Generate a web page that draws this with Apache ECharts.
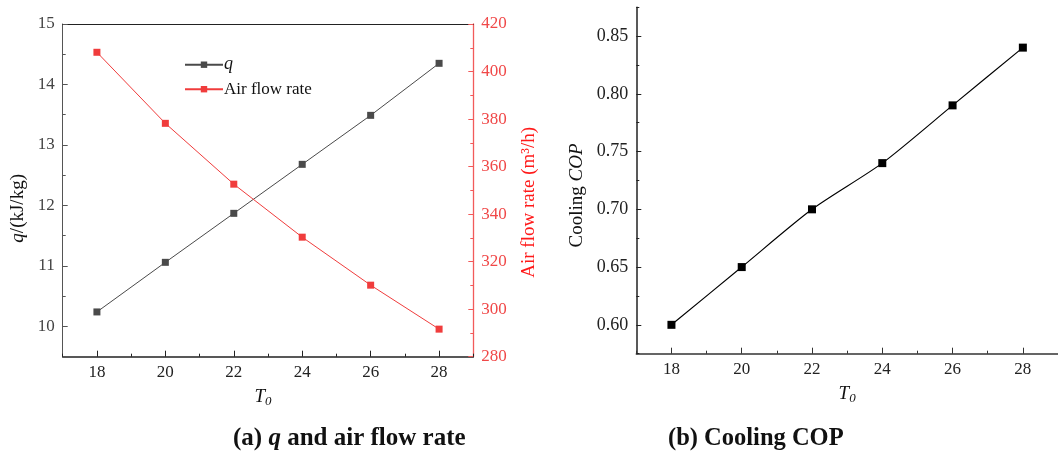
<!DOCTYPE html>
<html><head><meta charset="utf-8">
<script src="https://cdn.jsdelivr.net/npm/echarts@6/dist/echarts.min.js"></script>
<style>html,body{margin:0;padding:0;background:#fff}#c{width:1058px;height:452px}</style>
</head><body><div id="c"></div>
<script>
const temps = [18, 20, 22, 24, 26, 28];
const qValues = [10.24, 11.06, 11.87, 12.68, 13.49, 14.35];
const airFlow = [408.1, 378.2, 352.6, 330.3, 310.1, 291.6];
const copValues = [0.60, 0.65, 0.70, 0.74, 0.79, 0.84];
const xMajorTicks = [18, 20, 22, 24, 26, 28];
const xMinorTicks = [17, 19, 21, 23, 25, 27, 29];
const qMajorTicks = [10, 11, 12, 13, 14, 15];
const qMinorTicks = [9.5, 10.5, 11.5, 12.5, 13.5, 14.5];
const copMajorTicks = [0.60, 0.65, 0.70, 0.75, 0.80, 0.85];
const copMinorTicks = [0.575, 0.625, 0.675, 0.725, 0.775, 0.825, 0.875];

const FF = '"Liberation Serif","Times New Roman",serif';
const RED = '#f03c3c';
const pair = (ys) => temps.map((t, i) => [t, ys[i]]);

const nameT0 = {
  fontFamily: FF, fontSize: 19, color: '#111',
  rich: {
    i: {fontFamily: FF, fontSize: 19, fontStyle: 'italic', color: '#111', lineHeight: 22},
    s: {fontFamily: FF, fontSize: 13, fontStyle: 'italic', color: '#111', padding: [9, 0, 0, 0]}
  }
};

function mainX(grid, name, namePad, lineColor) {
  return {
    type: 'value', gridIndex: grid, position: 'bottom', min: 17, max: 29,
    name: name, nameLocation: 'middle', nameGap: 29,
    nameTextStyle: Object.assign({}, nameT0, {padding: namePad}),
    axisLine: {show: true, onZero: false, lineStyle: {color: lineColor, width: 1.5}},
    axisTick: {show: true, inside: true, length: 6, customValues: xMajorTicks, lineStyle: {color: lineColor, width: 1}},
    axisLabel: {customValues: xMajorTicks, margin: 7, color: '#222', fontFamily: FF, fontSize: 17},
    splitLine: {show: false}
  };
}
function minorX(grid, lineColor) {
  return {
    type: 'value', gridIndex: grid, position: 'bottom', min: 17, max: 29,
    axisLine: {show: false, onZero: false},
    axisTick: {show: true, inside: true, length: 3, customValues: xMinorTicks, lineStyle: {color: lineColor, width: 1}},
    axisLabel: {show: false}, splitLine: {show: false}
  };
}

const option = {
  backgroundColor: '#fff',
  animation: false,
  title: [
    {
      text: '{b|(a) }{bi|q}{b| and air flow rate}', left: 233, top: 426, padding: 0,
      textStyle: {fontFamily: FF, fontSize: 25, fontWeight: 'bold', color: '#111',
        rich: {
          b: {fontFamily: FF, fontSize: 25, fontWeight: 'bold', color: '#111'},
          bi: {fontFamily: FF, fontSize: 25, fontWeight: 'bold', fontStyle: 'italic', color: '#111'}
        }}
    },
    {
      text: '(b) Cooling COP', left: 668, top: 426, padding: 0,
      textStyle: {fontFamily: FF, fontSize: 24.5, fontWeight: 'bold', color: '#111'}
    }
  ],
  legend: {
    left: 184, top: 55.7, orient: 'vertical', padding: 0,
    itemWidth: 38, itemHeight: 8, itemGap: 7,
    data: ['q', 'Air flow rate'],
    formatter: (n) => n === 'q' ? '{i|q}' : n,
    textStyle: {fontFamily: FF, fontSize: 17, color: '#111', lineHeight: 14, padding: [0, 0, 0, -4],
      rich: {i: {fontFamily: FF, fontSize: 18, fontStyle: 'italic', color: '#111', lineHeight: 14}}}
  },
  grid: [
    {left: 62.7, top: 24, width: 410.6, height: 332.7},
    {left: 636.3, top: 7.2, width: 427.7, height: 346.5}
  ],
  xAxis: [
    mainX(0, '{i|T}{s|0}', [0, 10, 0, 0], '#222'),
    minorX(0, '#222'),
    {
      type: 'value', gridIndex: 0, position: 'top', min: 17, max: 29,
      axisLine: {show: true, onZero: false, lineStyle: {color: '#222', width: 1.2}},
      axisTick: {show: false}, axisLabel: {show: false}, splitLine: {show: false}
    },
    mainX(1, '{i|T}{s|0}', [0, 0, 0, 0], '#333'),
    minorX(1, '#333')
  ],
  yAxis: [
    {
      type: 'value', gridIndex: 0, position: 'left', min: 9.5, max: 15,
      name: '{i|q}/(kJ/kg)', nameLocation: 'middle', nameGap: 35,
      nameTextStyle: {fontFamily: FF, fontSize: 19, color: '#111', padding: [0, 36, 0, 0],
        rich: {i: {fontFamily: FF, fontSize: 19, fontStyle: 'italic', color: '#111'}}},
      axisLine: {show: true, onZero: false, lineStyle: {color: '#555', width: 1}},
      axisTick: {show: true, inside: true, length: 5, customValues: qMajorTicks, lineStyle: {color: '#555'}},
      axisLabel: {customValues: qMajorTicks, margin: 8, color: '#444', fontFamily: FF, fontSize: 17},
      splitLine: {show: false}
    },
    {
      type: 'value', gridIndex: 0, position: 'left', min: 9.5, max: 15,
      axisLine: {show: false, onZero: false},
      axisTick: {show: true, inside: true, length: 3, customValues: qMinorTicks, lineStyle: {color: '#555'}},
      axisLabel: {show: false}, splitLine: {show: false}
    },
    {
      type: 'value', gridIndex: 0, position: 'right', min: 280, max: 420, interval: 20,
      name: 'Air flow rate (m³/h)', nameLocation: 'middle', nameGap: 46,
      nameTextStyle: {fontFamily: FF, fontSize: 19, color: '#ff1a1a', padding: [0, 24, 0, 0]},
      axisLine: {show: true, onZero: false, lineStyle: {color: '#f25a5a', width: 1.3}},
      axisTick: {show: true, inside: true, length: 5, lineStyle: {color: '#f25a5a'}},
      minorTick: {show: true, splitNumber: 2, length: 3, lineStyle: {color: '#f25a5a'}},
      axisLabel: {margin: 8, color: '#f04848', fontFamily: FF, fontSize: 17},
      splitLine: {show: false}, minorSplitLine: {show: false}
    },
    {
      type: 'value', gridIndex: 1, position: 'left', min: 0.575, max: 0.875,
      name: 'Cooling {i|COP}', nameLocation: 'middle', nameGap: 50,
      nameTextStyle: {fontFamily: FF, fontSize: 19, color: '#111', padding: [0, 30, 0, 0],
        rich: {i: {fontFamily: FF, fontSize: 19, fontStyle: 'italic', color: '#111'}}},
      axisLine: {show: true, onZero: false, lineStyle: {color: '#222', width: 1.5}},
      axisTick: {show: true, inside: true, length: 5, customValues: copMajorTicks, lineStyle: {color: '#222'}},
      axisLabel: {customValues: copMajorTicks, margin: 8, color: '#222', fontFamily: FF, fontSize: 18,
        formatter: (v) => v.toFixed(2)},
      splitLine: {show: false}
    },
    {
      type: 'value', gridIndex: 1, position: 'left', min: 0.575, max: 0.875,
      axisLine: {show: false, onZero: false},
      axisTick: {show: true, inside: true, length: 3, customValues: copMinorTicks, lineStyle: {color: '#222'}},
      axisLabel: {show: false}, splitLine: {show: false}
    }
  ],
  series: [
    {
      name: 'q', type: 'line', xAxisIndex: 0, yAxisIndex: 0, data: pair(qValues),
      symbol: 'rect', symbolSize: 7, showAllSymbol: true,
      lineStyle: {color: '#4a4a4a', width: 1}, itemStyle: {color: '#4a4a4a'}
    },
    {
      name: 'Air flow rate', type: 'line', xAxisIndex: 0, yAxisIndex: 2, data: pair(airFlow),
      symbol: 'rect', symbolSize: 7, showAllSymbol: true,
      lineStyle: {color: RED, width: 1}, itemStyle: {color: RED}
    },
    {
      name: 'COP', type: 'line', xAxisIndex: 3, yAxisIndex: 3, data: pair(copValues),
      symbol: 'rect', symbolSize: 8, smooth: 0.25, showAllSymbol: true,
      lineStyle: {color: '#000', width: 1.2}, itemStyle: {color: '#000'}
    }
  ]
};
const chart = echarts.init(document.getElementById('c'), null, {renderer: 'canvas'});
chart.setOption(option);
</script></body></html>
